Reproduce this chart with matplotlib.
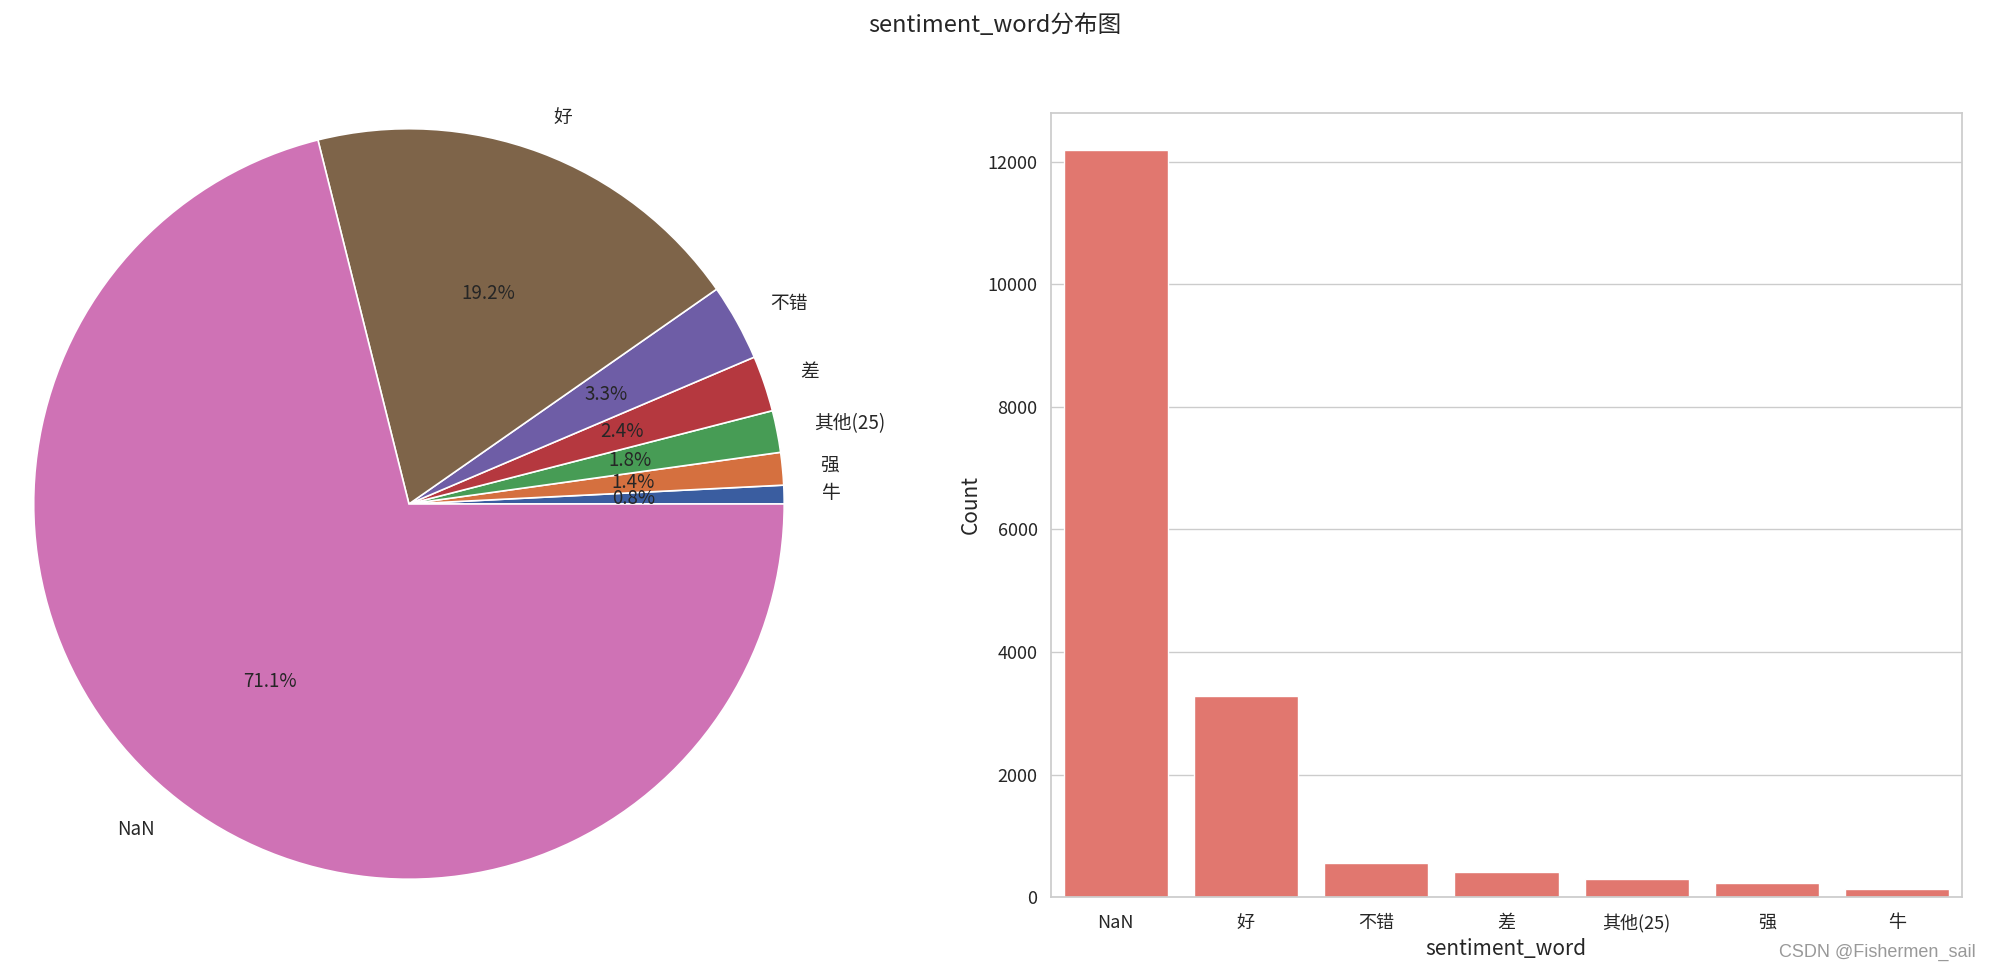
import matplotlib
matplotlib.use('Agg')
import matplotlib.pyplot as plt
import seaborn as sns

# 数据
words = ['NaN', '好', '不错', '差', '其他(25)', '强', '牛']
counts = [12190, 3290, 560, 405, 290, 230, 135]
pie_pct = [71.1, 19.2, 3.3, 2.4, 1.8, 1.4, 0.8]
# 饼图颜色 (从小到大: 牛, 强, 其他, 差, 不错, 好, NaN)
pie_colors = ['#3A5DA0', '#D5703F', '#479C55', '#B5383F', '#6E5DA6', '#7E6449', '#CF72B5']

sns.set_theme(style='whitegrid')
plt.rcParams['font.family'] = ['Noto Sans CJK SC', 'DejaVu Sans']
plt.rcParams['axes.unicode_minus'] = False

fig = plt.figure(figsize=(19.9, 9.72), dpi=100)
fig.suptitle('sentiment_word分布图', fontsize=17, y=0.974, va='center', color='.15')

# 饼图
ax1 = fig.add_axes([0.0075, 0.076, 0.396, 0.811])
ax1.pie(pie_pct[::-1], labels=words[::-1], autopct='%1.1f%%', colors=pie_colors,
        wedgeprops=dict(edgecolor='white', linewidth=1.2),
        textprops=dict(fontsize=13.5, color='.15'))
ax1.set_xlim(-1.05, 1.05)
ax1.set_ylim(-1.05, 1.05)
ax1.set_aspect('equal')

# 柱状图
ax2 = fig.add_axes([0.528, 0.077, 0.458, 0.807])
ax2.bar(range(len(words)), counts, width=0.8, color='#E1776F')
ax2.set_xticks(range(len(words)), words)
ax2.set_xlim(-0.5, len(words) - 0.5)
ax2.grid(axis='x', visible=False)
ax2.tick_params(labelsize=13)
ax2.tick_params(axis='x', pad=6)
ax2.set_xlabel('sentiment_word', fontsize=15)
ax2.set_ylabel('Count', fontsize=15)
for s in ax2.spines.values():
    s.set_color('.8')

fig.text(0.993, 0.02, 'CSDN @Fishermen_sail', ha='right', va='center',
         fontsize=13, color='#999999', family=['Liberation Sans', 'DejaVu Sans'])

fig.savefig('out.png')
